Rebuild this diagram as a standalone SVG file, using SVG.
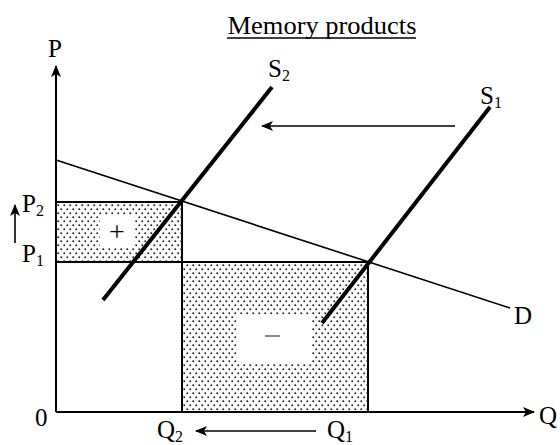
<svg xmlns="http://www.w3.org/2000/svg" width="560" height="445" viewBox="0 0 560 445">
<style>
text{font-family:"Liberation Serif","Times New Roman",serif;font-size:25px;fill:#000}
.sub{font-size:16px}
.ax{stroke:#000;stroke-width:2;fill:none}
.thin{stroke:#000;stroke-width:1.6;fill:none}
.s{stroke:#000;stroke-width:4;fill:none}
.box{fill:url(#dots);stroke:#000;stroke-width:2}
</style>
<defs>
<pattern id="dots" width="6" height="8" patternUnits="userSpaceOnUse">
<rect width="6" height="8" fill="#fff"/>
<rect x="0.4" y="0.4" width="1.7" height="1.7" fill="#222"/>
<rect x="3.4" y="4.4" width="1.7" height="1.7" fill="#222"/>
</pattern>
<marker id="ah" markerWidth="12" markerHeight="10" refX="11" refY="5" orient="auto" markerUnits="userSpaceOnUse">
<path d="M0,0 L12,5 L0,10 L3,5 Z" fill="#000"/>
</marker>
</defs>
<g id="title"><text x="322" y="34" text-anchor="middle" style="font-size:26px" textLength="189" lengthAdjust="spacingAndGlyphs">Memory products</text><line x1="227" y1="38" x2="416" y2="38" stroke="#000" stroke-width="1.4"/></g>
<g id="areas">
<rect id="gain" class="box" x="56" y="202" width="126" height="60"/>
<rect x="100" y="215" width="34" height="32" fill="#fff"/>
<text x="117" y="241" text-anchor="middle" style="font-size:28px">+</text>
<rect id="loss" class="box" x="182" y="262" width="186" height="150"/>
<rect x="237" y="316" width="75" height="47" fill="#fff"/>
<line x1="265" y1="336" x2="280" y2="336" stroke="#666" stroke-width="1.5"/>
</g>
<g id="axes">
<line class="ax" x1="56" y1="412" x2="56" y2="66" marker-end="url(#ah)"/>
<line class="ax" x1="56" y1="412" x2="534" y2="412" marker-end="url(#ah)"/>
</g>
<g id="curves">
<line id="D" class="thin" x1="56" y1="160" x2="510" y2="308"/>
<line id="S2" class="s" x1="103" y1="300" x2="272" y2="87"/>
<line id="S1" class="s" x1="322" y1="323" x2="490" y2="107"/>
</g>
<g id="connectors">
<line class="thin" x1="455" y1="126" x2="262" y2="126" marker-end="url(#ah)"/>
<line class="thin" x1="316" y1="431" x2="196" y2="431" marker-end="url(#ah)"/>
<line class="thin" x1="15" y1="243" x2="15" y2="205" marker-end="url(#ah)"/>
</g>
<g id="labels">
<text x="55" y="57" text-anchor="middle">P</text>
<text x="539" y="424">Q</text>
<text x="35" y="426">0</text>
<text x="22" y="212">P<tspan class="sub" dy="4">2</tspan></text>
<text x="22" y="262">P<tspan class="sub" dy="4">1</tspan></text>
<text x="157" y="438">Q<tspan class="sub" dy="4">2</tspan></text>
<text x="327" y="438">Q<tspan class="sub" dy="4">1</tspan></text>
<text x="268" y="77">S<tspan class="sub" dy="4">2</tspan></text>
<text x="480" y="104">S<tspan class="sub" dy="4">1</tspan></text>
<text x="514" y="324">D</text>
</g>
</svg>
